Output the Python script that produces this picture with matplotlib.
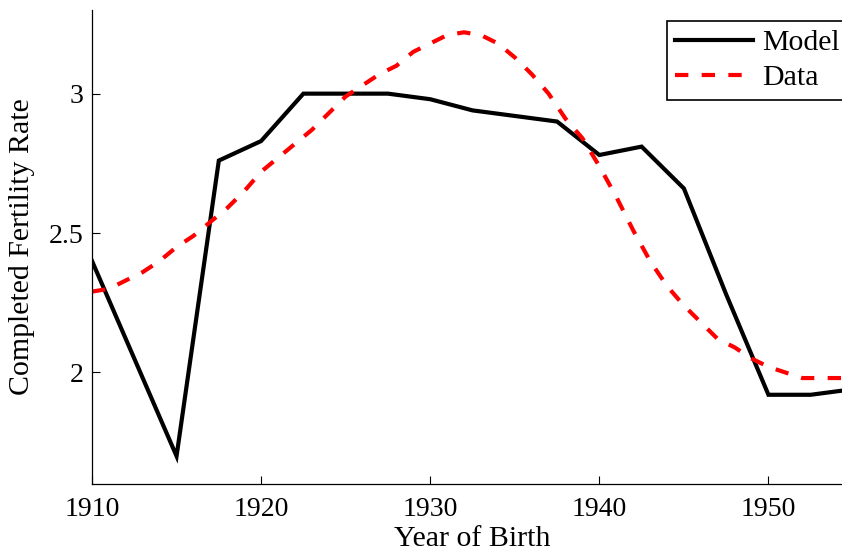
import matplotlib
matplotlib.use("Agg")
import matplotlib.pyplot as plt

# model cohorts, every 2.5 years
model_years = [1910, 1915, 1917.5, 1920, 1922.5, 1925, 1927.5, 1930, 1932.5,
               1935, 1937.5, 1940, 1942.5, 1945, 1947.5, 1950, 1952.5, 1955]
model_cfr = [2.40, 1.70, 2.76, 2.83, 3.00, 3.00, 3.00, 2.98, 2.94,
             2.92, 2.90, 2.78, 2.81, 2.66, 2.28, 1.92, 1.92, 1.94]

# data, one value per birth year
data_years = list(range(1910, 1956))
data_cfr = [2.29, 2.30, 2.33, 2.36, 2.40, 2.45, 2.49, 2.54, 2.59, 2.65,
            2.72, 2.77, 2.82, 2.87, 2.93, 2.99, 3.03, 3.07, 3.10, 3.15,
            3.18, 3.21, 3.22, 3.21, 3.18, 3.13, 3.07, 3.00, 2.91, 2.84,
            2.74, 2.63, 2.51, 2.40, 2.31, 2.24, 2.18, 2.12, 2.09, 2.05,
            2.02, 2.00, 1.98, 1.98, 1.98, 1.98]

x_ticks = [1910, 1920, 1930, 1940, 1950]
y_ticks = [2, 2.5, 3]
y_tick_labels = ["2", "2.5", "3"]

plt.rcParams['font.family'] = ['Liberation Serif', 'DejaVu Serif']
plt.rcParams['font.size'] = 20

fig = plt.figure(figsize=(8.42, 5.52), dpi=100)
ax = fig.add_axes([92 / 842, 68 / 552, 761 / 842, 474 / 552])

ax.plot(model_years, model_cfr, color="black", lw=3, label="Model",
        solid_joinstyle="miter")
ax.plot(data_years, data_cfr, color="red", lw=3, linestyle=(0, (3.2, 3.2)),
        label="Data")

ax.set_xlim(1910, 1955)
ax.set_ylim(1.6, 3.3)
ax.set_xticks(x_ticks)
ax.set_yticks(y_ticks)
ax.set_yticklabels(y_tick_labels)
ax.tick_params(direction="in", length=6, width=0.8, labelsize=20)
ax.tick_params(axis="x", pad=9)
ax.tick_params(axis="y", pad=6)

ax.spines["top"].set_visible(False)
ax.spines["right"].set_visible(False)
for s in ("left", "bottom"):
    ax.spines[s].set_linewidth(0.9)

ax.set_xlabel("Year of Birth", fontsize=21.5, labelpad=3)
ax.set_ylabel("Completed Fertility Rate", fontsize=21.5, labelpad=10)

# legend frame runs off the right edge, as in the original
leg = ax.legend(loc="upper right", bbox_to_anchor=(0.993, 0.977),
                fancybox=False, framealpha=1, fontsize=21.5,
                edgecolor="black", handlelength=2.6, handletextpad=0.3,
                borderaxespad=0.0, borderpad=0.28, labelspacing=0.28)
leg.get_frame().set_linewidth(1.2)

fig.savefig("out.png", dpi=100)
